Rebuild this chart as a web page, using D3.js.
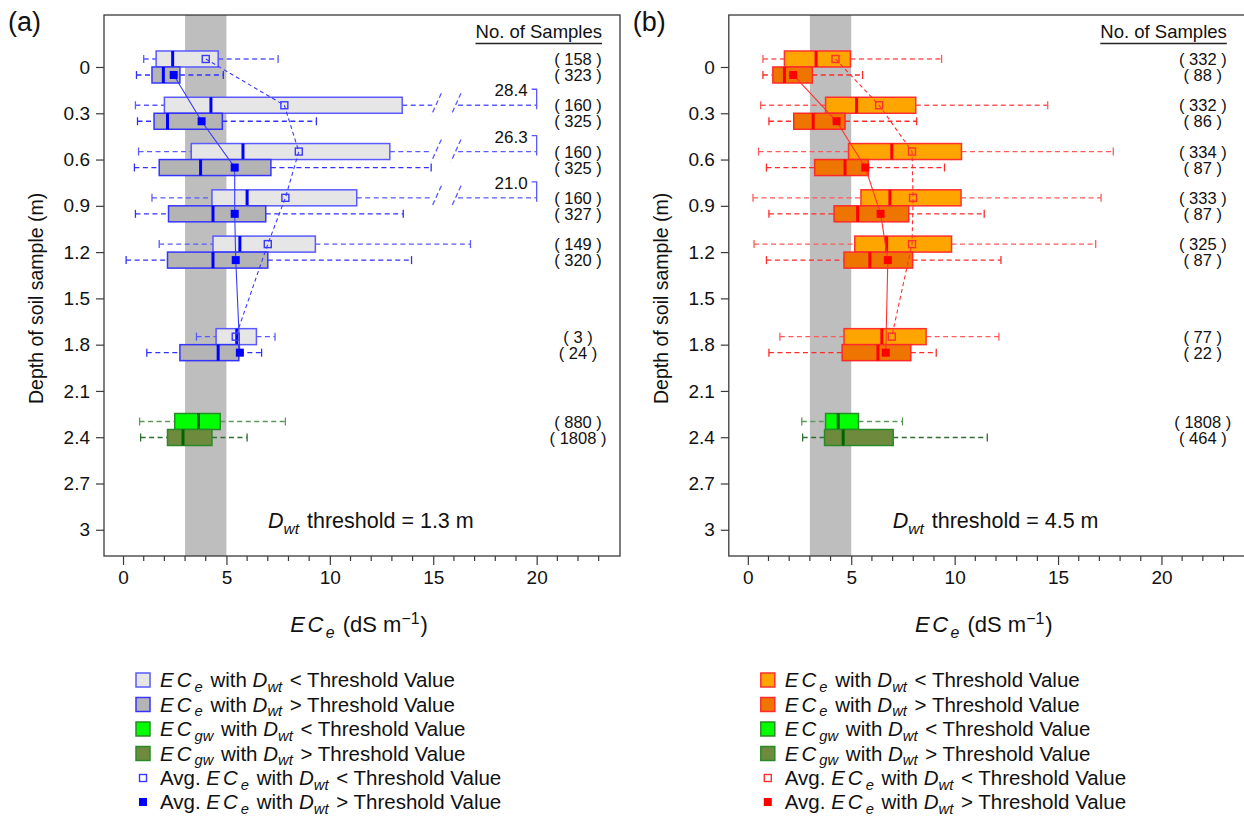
<!DOCTYPE html>
<html><head><meta charset="utf-8">
<script src="https://cdn.jsdelivr.net/npm/d3@7/dist/d3.min.js"></script>
<style>
body{margin:0;background:#fff}
svg{display:block}
text{font-family:"Liberation Sans",Arial,Helvetica,sans-serif;fill:#111}
</style>
</head><body>
<svg id="chart" width="1244" height="818"></svg>
<script>
// ---------------- data ----------------
const depths = [0, 0.3, 0.6, 0.9, 1.2, 1.8];
const gwDepth = 2.35;
const yTickValues = [0, 0.3, 0.6, 0.9, 1.2, 1.5, 1.8, 2.1, 2.4, 2.7, 3];
const yTickLabels = ["0", "0.3", "0.6", "0.9", "1.2", "1.5", "1.8", "2.1", "2.4", "2.7", "3"];
const xTickValues = [0, 5, 10, 15, 20];
const xTickLabels = ["0", "5", "10", "15", "20"];
const xMinorTicks = d3.range(0, 24, 1);
const salineBand = [3, 5];
const panelLabels = ["(a)", "(b)"];
const thresholds = ["1.3", "4.5"];

// five-number summaries: [lower whisker, Q1, median, Q3, upper whisker]
// panel (a) — Dwt threshold 1.3 m
const aLowStats = [[1.0,1.6,2.4,4.6,7.5],[0.6,2.0,4.25,13.5,28.4],[0.75,3.3,5.8,12.9,26.3],[1.4,4.3,6.0,11.3,21.0],[1.75,4.35,5.65,9.3,16.8],[3.55,4.5,5.5,6.45,7.35]];
const aLowMean = [4.0, 7.8, 8.5, 7.85, 7.0, 5.45];
const aLowN = [158, 160, 160, 160, 149, 3];
const aHighStats = [[0.65,1.4,1.95,2.75,4.85],[0.7,1.5,2.15,4.8,9.35],[0.55,1.75,3.75,7.15,14.9],[0.6,2.2,4.35,6.9,13.55],[0.15,2.15,4.35,7.0,13.95],[1.15,2.75,4.6,5.6,6.7]];
const aHighMean = [2.45, 3.8, 5.4, 5.4, 5.45, 5.65];
const aHighN = [323, 325, 325, 327, 320, 24];
const aGwLow = [0.8, 2.5, 3.65, 4.7, 7.85];
const aGwHigh = [0.85, 2.15, 2.9, 4.3, 6.0];
const aGwN = [880, 1808];

// panel (b) — Dwt threshold 4.5 m
const bLowStats = [[0.73,1.77,3.3,4.96,9.37],[0.62,3.76,5.26,8.12,14.5],[0.52,4.87,6.96,10.33,17.67],[0.25,5.47,6.87,10.31,17.08],[0.3,5.17,6.71,9.85,16.82],[1.55,4.65,6.48,8.62,12.14]];
const bLowMean = [4.24, 6.35, 7.94, 7.99, 7.94, 6.96];
const bLowN = [332, 332, 334, 333, 325, 77];
const bHighStats = [[0.73,1.21,1.77,3.12,5.55],[1.02,2.22,3.16,4.7,8.16],[0.9,3.23,4.7,5.83,9.51],[1.02,4.17,5.31,7.78,11.43],[0.9,4.65,5.9,7.97,12.24],[1.02,4.56,6.29,7.88,9.11]];
const bHighMean = [2.19, 4.29, 5.68, 6.42, 6.77, 6.67];
const bHighN = [88, 86, 87, 87, 87, 22];
const bGwLow = [2.61, 3.76, 4.37, 5.35, 7.48];
const bGwHigh = [2.65, 3.71, 4.61, 7.03, 11.58];
const bGwN = [1808, 464];

// axis break for very long whiskers (data units)
const axisCap = 20;
const breakGap = [14.95, 16.2];

// ---------------- styles ----------------
const styleA = {
  lowFill: "#e6e6e6", lowStroke: "#5a5aff", highFill: "#b4b4b4", highStroke: "#3535ff",
  median: "#0000ff", whiskerLow: "#5a5aff", whiskerHigh: "#3030ff", line: "#3a3aff", mark: "#0000ff"
};
const styleB = {
  lowFill: "#ffa500", lowStroke: "#ff3030", highFill: "#ee7600", highStroke: "#ff2a2a",
  median: "#ff0000", whiskerLow: "#ff5a5a", whiskerHigh: "#ff2a2a", line: "#ff3030", mark: "#ff0000"
};
const gwStyle = {lowFill: "#00ff00", highFill: "#6e8b3d", stroke: "#2a8a2a", median: "#006400", whiskerLow: "#5a9a5a", whiskerHigh: "#2f6f2f"};

const svg = d3.select("#chart");
svg.append("rect").attr("width", 1244).attr("height", 818).attr("fill", "#fff");

const PANEL_TOP = 15, PANEL_BOTTOM = 556, PANEL_W = 516;
const HALF = 8; // half box height (px)

function addRich(textSel, parts, subShift) {
  // parts: [string, italic?, "sub"|"sup"|null, letterSpacing, dxBefore]
  let shift = 0;
  parts.forEach(p => {
    const t = textSel.append("tspan").text(p[0]);
    if (p[1]) t.attr("font-style", "italic");
    if (p[3]) t.attr("letter-spacing", p[3]);
    if (p[4]) t.attr("dx", p[4]);
    let target = 0;
    if (p[2] === "sub") { target = subShift || 6; t.attr("font-size", "72%"); }
    if (p[2] === "sup") { target = -8; t.attr("font-size", "72%"); }
    if (target !== shift) { t.attr("dy", target - shift); shift = target; }
  });
}

function drawPanel(idx, left, lowStats, lowMean, lowN, highStats, highMean, highN, gwLow, gwHigh, gwN, st) {
  const g = svg.append("g");
  const x = d3.scaleLinear().domain([-0.92, 24.03]).range([left, left + PANEL_W]);
  const y = d3.scaleLinear().domain([-0.337, 3.17]).range([PANEL_TOP, PANEL_BOTTOM]);

  // band
  g.append("rect").attr("x", x(salineBand[0])).attr("y", PANEL_TOP)
    .attr("width", x(salineBand[1]) - x(salineBand[0])).attr("height", PANEL_BOTTOM - PANEL_TOP)
    .attr("fill", "#bebebe");

  // frame
  g.append("rect").attr("x", left).attr("y", PANEL_TOP).attr("width", PANEL_W + (idx === 1 ? 6 : 0))
    .attr("height", PANEL_BOTTOM - PANEL_TOP).attr("fill", "none").attr("stroke", "#3a3a3a").attr("stroke-width", 1.3);

  // y axis
  const yAxis = d3.axisLeft(y).tickValues(yTickValues).tickFormat((d, i) => yTickLabels[i]).tickSize(8).tickPadding(6);
  const ya = g.append("g").attr("transform", `translate(${left},0)`).call(yAxis);
  ya.select(".domain").remove();
  ya.selectAll("line").attr("stroke", "#3a3a3a").attr("stroke-width", 1.2);
  ya.selectAll("text").attr("font-size", 19).attr("font-family", "Liberation Sans, Arial, sans-serif").attr("fill", "#111");

  // x axis
  const xAxis = d3.axisBottom(x).tickValues(xTickValues).tickFormat((d, i) => xTickLabels[i]).tickSize(9).tickPadding(6);
  const xa = g.append("g").attr("transform", `translate(0,${PANEL_BOTTOM})`).call(xAxis);
  xa.select(".domain").remove();
  xa.selectAll("line").attr("stroke", "#3a3a3a").attr("stroke-width", 1.2);
  xa.selectAll("text").attr("font-size", 19).attr("font-family", "Liberation Sans, Arial, sans-serif").attr("fill", "#111");
  g.append("g").selectAll("line").data(xMinorTicks.filter(v => v % 5 !== 0)).join("line")
    .attr("x1", d => x(d)).attr("x2", d => x(d)).attr("y1", PANEL_BOTTOM).attr("y2", PANEL_BOTTOM + 5)
    .attr("stroke", "#3a3a3a").attr("stroke-width", 1.2);

  // axis titles
  const xt = g.append("text").attr("x", left + 255).attr("y", 632).attr("text-anchor", "middle").attr("font-size", 22);
  addRich(xt, [["EC", true, null, 2.5], ["e", true, "sub"], [" (dS m", false, null, 0, 2], ["\u22121", false, "sup"], [")", false, null, 0, 1]]);
  g.append("text").attr("transform", `translate(${left - 61},${y(1.5)}) rotate(-90)`)
    .attr("text-anchor", "middle").attr("font-size", 19.5).text("Depth of soil sample (m)");

  // panel label
  g.append("text").attr("x", left - 96).attr("y", 31).attr("font-size", 27).text(panelLabels[idx]);

  // threshold text
  const tt = g.append("text").attr("x", left + 164).attr("y", 528).attr("font-size", 21.5);
  addRich(tt, [["D", true, null], ["wt", true, "sub"], [" threshold = " + thresholds[idx] + " m", false, null, 0, 2]]);

  // header
  const hd = g.append("text").attr("x", left + 498).attr("y", 38).attr("text-anchor", "end").attr("font-size", 18.5).text("No. of Samples");
  const hb = hd.node().getBBox();
  g.append("line").attr("x1", hb.x).attr("x2", hb.x + hb.width).attr("y1", 43.5).attr("y2", 43.5)
    .attr("stroke", "#222").attr("stroke-width", 1.3);

  function drawBox(s, yc, fill, stroke, median, wcol) {
    const dash = "5,3.5";
    g.append("line").attr("x1", x(s[0])).attr("x2", x(s[1])).attr("y1", yc).attr("y2", yc)
      .attr("stroke", wcol).attr("stroke-width", 1.3).attr("stroke-dasharray", dash);
    g.append("line").attr("x1", x(s[0])).attr("x2", x(s[0])).attr("y1", yc - 4).attr("y2", yc + 4)
      .attr("stroke", wcol).attr("stroke-width", 1.3);
    if (s[4] > axisCap) {
      g.append("line").attr("x1", x(s[3])).attr("x2", x(breakGap[0])).attr("y1", yc).attr("y2", yc)
        .attr("stroke", wcol).attr("stroke-width", 1.3).attr("stroke-dasharray", dash);
      g.append("line").attr("x1", x(breakGap[1])).attr("x2", x(axisCap)).attr("y1", yc).attr("y2", yc)
        .attr("stroke", wcol).attr("stroke-width", 1.3).attr("stroke-dasharray", dash);
      [breakGap[0] + 0.2, breakGap[1] - 0.1].forEach(b => {
        g.append("line").attr("x1", x(b) + 5).attr("x2", x(b) - 5).attr("y1", yc - 12).attr("y2", yc + 10)
          .attr("stroke", wcol).attr("stroke-width", 1.3).attr("stroke-dasharray", "5,3");
      });
      const xe = x(axisCap);
      g.append("path").attr("d", `M${xe - 5},${yc - 16}H${xe}V${yc + 4}`).attr("fill", "none")
        .attr("stroke", wcol).attr("stroke-width", 1.3);
      g.append("text").attr("x", xe - 9).attr("y", yc - 9).attr("text-anchor", "end").attr("font-size", 17)
        .text(d3.format(".1f")(s[4]));
    } else {
      g.append("line").attr("x1", x(s[3])).attr("x2", x(s[4])).attr("y1", yc).attr("y2", yc)
        .attr("stroke", wcol).attr("stroke-width", 1.3).attr("stroke-dasharray", dash);
      g.append("line").attr("x1", x(s[4])).attr("x2", x(s[4])).attr("y1", yc - 4).attr("y2", yc + 4)
        .attr("stroke", wcol).attr("stroke-width", 1.3);
    }
    g.append("rect").attr("x", x(s[1])).attr("y", yc - HALF).attr("width", x(s[3]) - x(s[1])).attr("height", 2 * HALF)
      .attr("fill", fill).attr("stroke", stroke).attr("stroke-width", 1.5);
    g.append("line").attr("x1", x(s[2])).attr("x2", x(s[2])).attr("y1", yc - HALF).attr("y2", yc + HALF)
      .attr("stroke", median).attr("stroke-width", 3);
  }

  depths.forEach((d, i) => {
    drawBox(lowStats[i], y(d) - HALF, st.lowFill, st.lowStroke, st.median, st.whiskerLow);
    drawBox(highStats[i], y(d) + HALF, st.highFill, st.highStroke, st.median, st.whiskerHigh);
  });
  drawBox(gwLow, y(gwDepth) - HALF, gwStyle.lowFill, gwStyle.stroke, gwStyle.median, gwStyle.whiskerLow);
  drawBox(gwHigh, y(gwDepth) + HALF, gwStyle.highFill, gwStyle.stroke, gwStyle.median, gwStyle.whiskerHigh);

  // mean connecting lines
  const lineLow = d3.line().x(d => x(d[0])).y(d => y(d[1]) - HALF);
  const lineHigh = d3.line().x(d => x(d[0])).y(d => y(d[1]) + HALF);
  g.append("path").attr("d", lineLow(lowMean.map((m, i) => [m, depths[i]]))).attr("fill", "none")
    .attr("stroke", st.line).attr("stroke-width", 1.1).attr("stroke-dasharray", "4,3");
  g.append("path").attr("d", lineHigh(highMean.map((m, i) => [m, depths[i]]))).attr("fill", "none")
    .attr("stroke", st.line).attr("stroke-width", 1.1);

  // mean markers
  lowMean.forEach((m, i) => {
    g.append("rect").attr("x", x(m) - 3.5).attr("y", y(depths[i]) - HALF - 3.5).attr("width", 7).attr("height", 7)
      .attr("fill", "none").attr("stroke", st.line).attr("stroke-width", 1.4);
  });
  highMean.forEach((m, i) => {
    g.append("rect").attr("x", x(m) - 4).attr("y", y(depths[i]) + HALF - 4).attr("width", 8).attr("height", 8)
      .attr("fill", st.mark);
  });

  // sample counts
  const cx = left + 474;
  const cfs = 16.5;
  depths.forEach((d, i) => {
    g.append("text").attr("x", cx).attr("y", y(d) - HALF + 6).attr("text-anchor", "middle").attr("font-size", cfs).text(`( ${lowN[i]} )`);
    g.append("text").attr("x", cx).attr("y", y(d) + HALF + 6).attr("text-anchor", "middle").attr("font-size", cfs).text(`( ${highN[i]} )`);
  });
  g.append("text").attr("x", cx).attr("y", y(gwDepth) - HALF + 6).attr("text-anchor", "middle").attr("font-size", cfs).text(`( ${gwN[0]} )`);
  g.append("text").attr("x", cx).attr("y", y(gwDepth) + HALF + 6).attr("text-anchor", "middle").attr("font-size", cfs).text(`( ${gwN[1]} )`);

  // legend
  const legRows = [
    {kind: "box", fill: st.lowFill, stroke: st.lowStroke, sym: "e", op: "<"},
    {kind: "box", fill: st.highFill, stroke: st.highStroke, sym: "e", op: ">"},
    {kind: "box", fill: gwStyle.lowFill, stroke: gwStyle.stroke, sym: "gw", op: "<"},
    {kind: "box", fill: gwStyle.highFill, stroke: gwStyle.stroke, sym: "gw", op: ">"},
    {kind: "open", sym: "e", op: "<", pre: "Avg. "},
    {kind: "filled", sym: "e", op: ">", pre: "Avg. "}
  ];
  const legY = [680, 704.5, 729, 753.5, 778, 802];
  legRows.forEach((r, i) => {
    const yc = legY[i];
    if (r.kind === "box") {
      g.append("rect").attr("x", left + 32).attr("y", yc - 7).attr("width", 14).attr("height", 14)
        .attr("fill", r.fill).attr("stroke", r.stroke).attr("stroke-width", 1.5);
    } else if (r.kind === "open") {
      g.append("rect").attr("x", left + 35.5).attr("y", yc - 3.5).attr("width", 7).attr("height", 7)
        .attr("fill", "none").attr("stroke", st.line).attr("stroke-width", 1.4);
    } else {
      g.append("rect").attr("x", left + 35).attr("y", yc - 4).attr("width", 8).attr("height", 8).attr("fill", st.mark);
    }
    const t = g.append("text").attr("x", left + 56).attr("y", yc + 7).attr("font-size", 20.5);
    const parts = [];
    if (r.pre) parts.push([r.pre, false, null]);
    parts.push(["EC", true, null, 3], [r.sym, true, "sub"], [" with ", false, null, 0, 2], ["D", true, null], ["wt", true, "sub"], [" " + r.op + " Threshold Value", false, null, 0, 2]);
    addRich(t, parts, 4.5);
  });
}

drawPanel(0, 104, aLowStats, aLowMean, aLowN, aHighStats, aHighMean, aHighN, aGwLow, aGwHigh, aGwN, styleA);
drawPanel(1, 728.8, bLowStats, bLowMean, bLowN, bHighStats, bHighMean, bHighN, bGwLow, bGwHigh, bGwN, styleB);
</script>
</body></html>
